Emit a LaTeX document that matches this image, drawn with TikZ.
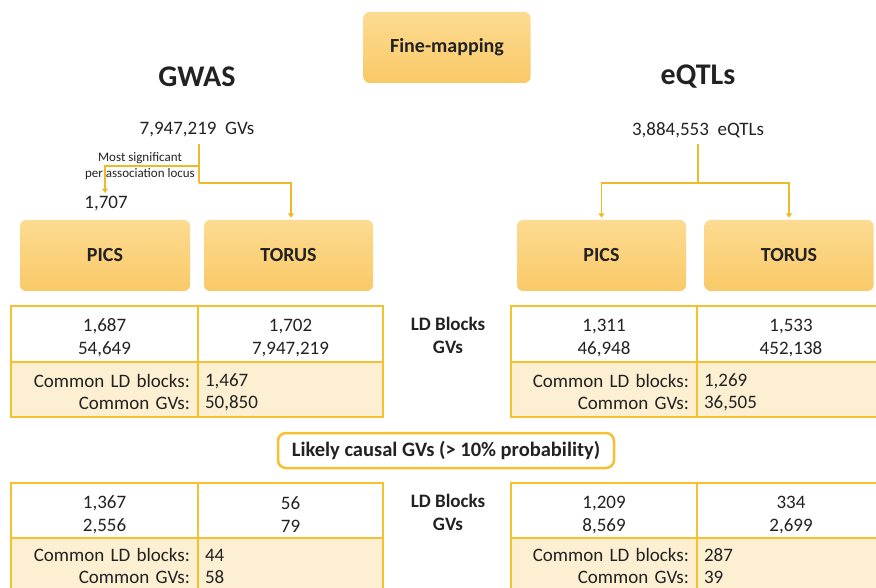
\documentclass[tikz,border=0pt]{standalone}
\usepackage{fontspec}
\setmainfont{Carlito}
\usetikzlibrary{arrows.meta}
\definecolor{boxtop}{HTML}{FDDB92}
\definecolor{boxbot}{HTML}{F9C967}
\definecolor{tabline}{HTML}{F6C02F}
\definecolor{tabfill}{HTML}{FDEFD2}
\definecolor{connc}{HTML}{EDBA2A}
\definecolor{txt}{HTML}{222222}
\newcommand{\strA}{\rule{0pt}{19.5pt}}
\newcommand{\strB}{\rule{0pt}{18pt}}
\begin{document}
\begin{tikzpicture}[x=1pt,y=-1pt,
  every node/.style={text=txt},
  fbox/.style={rounded corners=6pt, top color=boxtop, bottom color=boxbot, draw=none,
    font=\bfseries\fontsize{20}{24}\selectfont, inner sep=0pt},
  titletxt/.style={font=\bfseries\fontsize{30}{36}\selectfont},
  numtxt/.style={font=\fontsize{19}{23}\selectfont},
  smalltxt/.style={font=\fontsize{13}{16}\selectfont, align=center, inner sep=0pt},
  ldlab/.style={font=\bfseries\fontsize{19}{23}\selectfont, align=center},
  lbox/.style={draw=tabline, line width=2.5pt, fill=white, rounded corners=8pt,
    font=\bfseries\fontsize{20.5}{24}\selectfont, inner sep=0pt},
  cellA/.style={draw=tabline, line width=2.4pt, fill=white, inner sep=0pt, align=center,
    font=\fontsize{19}{23}\selectfont},
  cellL/.style={draw=tabline, line width=2.4pt, fill=tabfill, inner ysep=0pt, inner xsep=8pt,
    align=right, font=\fontsize{19}{22}\selectfont},
  cellR/.style={draw=tabline, line width=2.4pt, fill=tabfill, inner ysep=0pt, inner xsep=7pt,
    align=left, font=\fontsize{19}{22}\selectfont},
  connl/.style={draw=connc, line width=1.2pt},
  conna/.style={connl, -{Triangle[width=6pt,length=4.5pt]}}
]
\useasboundingbox (0,0) rectangle (876,588);
\clip (0,0) rectangle (876,588);

% top
\node[fbox, minimum width=167pt, minimum height=71pt] (fm) at (447,47.5) {Fine-mapping};
\node[titletxt] (gwas) at (197,77) {GWAS};
\node[titletxt] (eqtl) at (698,77) {eQTLs};

\node[numtxt] (gvs) at (197,130) {7,947,219~~GVs};
\node[numtxt] (eqn) at (698,130) {3,884,553~~eQTLs};
\node[numtxt] (n1707) at (106,204) {1,707};
\node[smalltxt] (most) at (140,166) {Most significant\\per association locus};

% method boxes
\node[fbox, minimum width=170pt, minimum height=71pt] (picsL) at (105,255.5) {PICS};
\node[fbox, minimum width=169pt, minimum height=71pt] (torusL) at (288.5,255.5) {TORUS};
\node[fbox, minimum width=169pt, minimum height=71pt] (picsR) at (601.5,255.5) {PICS};
\node[fbox, minimum width=169pt, minimum height=71pt] (torusR) at (789,255.5) {TORUS};

% connectors left
\coordinate (jA) at (199,166);
\coordinate (jB) at (199,183);
\draw[connl, shorten <=3pt] ([xshift=2pt]gvs.south) -- (jB);
\draw[conna] (jA) -| ([xshift=-1pt]n1707.north);
\draw[conna, shorten >=2pt] (jB) -| ([xshift=2.5pt]torusL.north);

% connectors right
\coordinate (jC) at (698,183);
\draw[connl, shorten <=3pt] (eqn.south) -- (jC);
\draw[conna, shorten >=2pt] (jC) -| (picsR.north);
\draw[conna, shorten >=2pt] (jC) -| (torusR.north);

% labels between tables
\node[ldlab] (ld1) at (448,335.5) {LD Blocks\\GVs};
\node[ldlab] (ld2) at (448,512) {LD Blocks\\GVs};
\node[lbox, minimum width=336pt, minimum height=35pt] (lk) at (446,450.5) {Likely causal GVs (> 10\% probability)};

% table 1 left
\node[cellA, minimum width=187pt, minimum height=56pt] (a11) at (104.5,334) {\strA 1,687\\54,649};
\node[cellA, minimum width=185pt, minimum height=56pt] (a12) at (290.5,334) {\strA 1,702\\7,947,219};
\node[cellL, text width=171pt, minimum height=55pt] (a21) at (104.5,389.5) {\strB Common LD blocks:\\Common GVs:};
\node[cellR, text width=171pt, minimum height=55pt] (a22) at (290.5,389.5) {\strB 1,467\\50,850};

% table 1 right
\node[cellA, minimum width=186pt, minimum height=56pt] (b11) at (604,334) {\strA 1,311\\46,948};
\node[cellA, minimum width=188pt, minimum height=56pt] (b12) at (791,334) {\strA 1,533\\452,138};
\node[cellL, text width=170pt, minimum height=55pt] (b21) at (604,389.5) {\strB Common LD blocks:\\Common GVs:};
\node[cellR, text width=174pt, minimum height=55pt] (b22) at (791,389.5) {\strB 1,269\\36,505};

% table 2 left
\node[cellA, minimum width=187pt, minimum height=56pt] (c11) at (104.5,511) {\strA 1,367\\2,556};
\node[cellA, minimum width=185pt, minimum height=56pt] (c12) at (290.5,511) {\strA 56\\79};
\node[cellL, text width=171pt, minimum height=56pt] (c21) at (104.5,566) {Common LD blocks:\\Common GVs:};
\node[cellR, text width=171pt, minimum height=56pt] (c22) at (290.5,566) {44\\58};

% table 2 right
\node[cellA, minimum width=186pt, minimum height=56pt] (d11) at (604,511) {\strA 1,209\\8,569};
\node[cellA, minimum width=188pt, minimum height=56pt] (d12) at (791,511) {\strA 334\\2,699};
\node[cellL, text width=170pt, minimum height=56pt] (d21) at (604,566) {Common LD blocks:\\Common GVs:};
\node[cellR, text width=174pt, minimum height=56pt] (d22) at (791,566) {287\\39};
\end{tikzpicture}
\end{document}
